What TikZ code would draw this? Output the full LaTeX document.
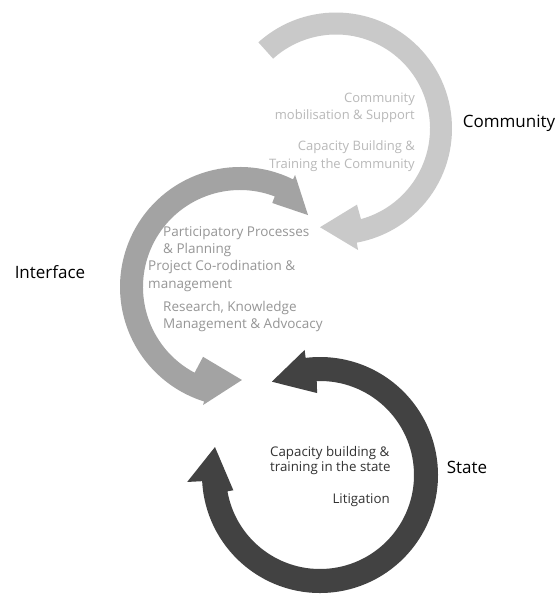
\documentclass[tikz,border=0pt]{standalone}
\usepackage{fontspec}
\setmainfont{Open Sans}
\begin{document}
\begin{tikzpicture}[x=1pt,y=-1pt,
  commcol/.style={fill={rgb,255:red,201;green,201;blue,201}},
  intcol/.style={fill={rgb,255:red,163;green,163;blue,163}},
  statecol/.style={fill={rgb,255:red,66;green,66;blue,66}},
  title/.style={font=\fontsize{17}{20}\selectfont, text=black, inner sep=0pt},
  note/.style={font=\fontsize{13}{17.5}\selectfont, inner sep=0pt},
  commnote/.style={note, text={rgb,255:red,185;green,185;blue,185}, align=right, anchor=east},
  intnote/.style={font=\fontsize{13.5}{17.5}\selectfont, inner sep=0pt, text={rgb,255:red,150;green,150;blue,150}, align=left, anchor=west},
  statenote/.style={font=\fontsize{13.3}{15}\selectfont, inner sep=0pt, text={rgb,255:red,50;green,50;blue,50}},
]
\useasboundingbox[fill=white] (0,0) rectangle (559,595);

% Community: single-headed circular arrow, flat tail at upper left
\begin{scope}[shift={(336,128.5)}]
  \path[commcol] (-132:116) arc[start angle=-132, end angle=79.7, radius=116]
    -- (79.7:123.5) -- (99.2:100) -- (74.6:79) -- (74.6:94)
    arc[start angle=74.6, end angle=-132, radius=94] -- cycle;
\end{scope}

% Interface: double-headed C-shaped arrow
\begin{scope}[shift={(240,287)}]
  \path[intcol] (-63.8:120) arc[start angle=-63.8, end angle=-252.6, radius=120]
    -- (107.4:123.7) -- (88.8:93) -- (117.9:79) -- (117.9:97)
    arc[start angle=-242.1, end angle=-69, radius=97]
    -- (-69:90) -- (-46.6:99) -- (-63.8:124.8) -- cycle;
\end{scope}

% State: double-headed ring arrow
\begin{scope}[shift={(320,475)}]
  \path[statecol] (177:118) arc[start angle=177, end angle=-97, radius=118]
    -- (-97:126) -- (-117.3:105) -- (-92:82) -- (-92:94)
    arc[start angle=-92, end angle=170, radius=94]
    -- (170:88) -- (194.9:108.7) -- (177:133) -- cycle;
\end{scope}

% Side labels
\node[title] (lcomm) at (509,123) {Community};
\node[title] (lint) at (50,272) {Interface};
\node[title] (lstate) at (467,467) {State};

% Activities of the community
\node[commnote] (c1) at (415,108) {Community\\mobilisation \& Support};
\node[commnote] (c2) at (415,156) {Capacity Building \&\\Training the Community};

% Activities at the interface
\node[intnote] (i1) at (163,241.5) {Participatory Processes\\\& Planning};
\node[intnote] (i2) at (148,276) {Project Co-rodination \&\\management};
\node[intnote] (i3) at (163,316.5) {Research, Knowledge\\Management \& Advocacy};

% Activities of the state
\node[statenote, align=left, anchor=west] (s1) at (270,460.5) {Capacity building \&\\training in the state};
\node[statenote, anchor=east] (s2) at (390,500) {Litigation};
\end{tikzpicture}
\end{document}
